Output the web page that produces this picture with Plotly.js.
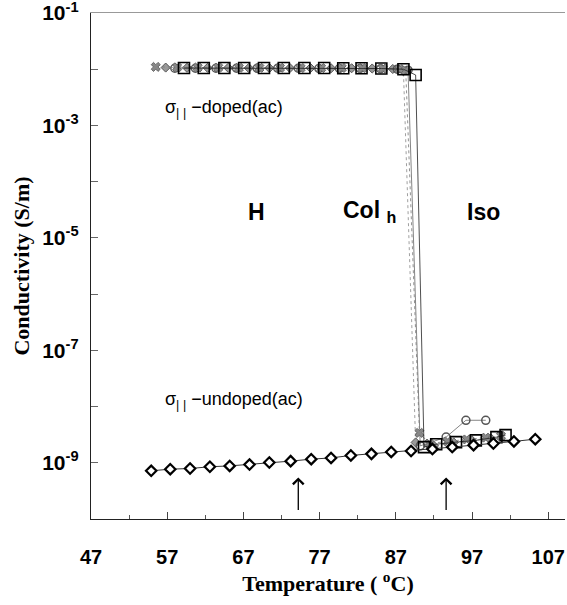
<!DOCTYPE html>
<html>
<head>
<meta charset="utf-8">
<script src="https://cdn.plot.ly/plotly-3.0.1.min.js"></script>
<style>html,body{margin:0;padding:0;background:#fff;}#chart{width:567px;height:605px;}</style>
</head>
<body>
<div id="chart"></div>
<script>
// ---- data (temperature in °C, conductivity in S/m) ----
const undopedT = [54.9, 57.4, 60.0, 62.6, 65.2, 67.8, 70.4, 73.2, 75.9, 78.5, 81.1, 83.8, 86.4, 89.0, 91.8, 94.4, 97.2, 99.8, 102.5, 105.3];
const undopedS = [7.2e-10, 7.7e-10, 7.9e-10, 8.5e-10, 8.8e-10, 9.3e-10, 1.01e-9, 1.07e-9, 1.16e-9, 1.22e-9, 1.35e-9, 1.44e-9, 1.56e-9, 1.62e-9, 1.75e-9, 1.9e-9, 2.06e-9, 2.2e-9, 2.4e-9, 2.63e-9];

const dopedSqT = [59.2, 61.8, 64.5, 67.1, 69.7, 72.3, 75.0, 77.6, 80.1, 82.5, 85.1, 88.0, 89.6, 90.7, 92.3, 94.9, 97.5, 100.2, 101.4];
const dopedSqS = [1.05e-2, 1.05e-2, 1.05e-2, 1.05e-2, 1.05e-2, 1.05e-2, 1.05e-2, 1.05e-2, 1.04e-2, 1.04e-2, 1.03e-2, 1.0e-2, 7.9e-3, 1.9e-9, 2.14e-9, 2.33e-9, 2.5e-9, 2.86e-9, 3.1e-9];

const dopedXT = [55.5, 58.3, 61.0, 63.7, 66.4, 69.1, 71.8, 74.5, 77.2, 79.9, 82.6, 85.3, 87.5, 88.3, 90.1, 91.4, 93.8, 96.3, 98.8, 100.8];
const dopedXS = [1.1e-2, 1.08e-2, 1.07e-2, 1.07e-2, 1.06e-2, 1.06e-2, 1.06e-2, 1.05e-2, 1.05e-2, 1.05e-2, 1.04e-2, 1.03e-2, 1.0e-2, 9.5e-3, 3.4e-9, 2.2e-9, 2.4e-9, 2.6e-9, 2.8e-9, 3.0e-9];

const dopedCirT = [58.0, 60.7, 63.4, 66.1, 68.8, 71.5, 74.2, 76.9, 79.6, 82.3, 85.0, 87.2, 88.6, 90.2, 93.6, 96.2, 98.8];
const dopedCirS = [1.04e-2, 1.04e-2, 1.04e-2, 1.04e-2, 1.04e-2, 1.04e-2, 1.04e-2, 1.03e-2, 1.03e-2, 1.03e-2, 1.02e-2, 1.0e-2, 9.6e-3, 2.0e-9, 2.86e-9, 5.7e-9, 5.7e-9];

const dopedDiaT = [56.8, 59.6, 62.3, 65.0, 67.7, 70.4, 73.1, 75.8, 78.5, 81.2, 83.9, 86.6, 88.0, 89.6, 92.0, 94.6, 97.0, 99.5];
const dopedDiaS = [1.07e-2, 1.06e-2, 1.06e-2, 1.06e-2, 1.05e-2, 1.05e-2, 1.05e-2, 1.05e-2, 1.04e-2, 1.04e-2, 1.03e-2, 1.01e-2, 9.2e-3, 2.3e-9, 2.0e-9, 2.3e-9, 2.5e-9, 2.7e-9];

const xTickVals = [47, 57, 67, 77, 87, 97, 107];
const yTickVals = [1e-9, 1e-8, 1e-7, 1e-6, 1e-5, 1e-4, 1e-3, 1e-2, 1e-1];
const yTickText = ['10<sup>-9</sup>', '', '10<sup>-7</sup>', '', '10<sup>-5</sup>', '', '10<sup>-3</sup>', '', '10<sup>-1</sup>'];

const labelDoped = 'σ<sub>| |</sub> −doped(ac)';
const labelUndoped = 'σ<sub>| |</sub> −undoped(ac)';
const phaseLabels = ['H', 'Col <sub>h</sub>', 'Iso'];
const phaseT = [68.7, 83.5, 98.5];
const phaseS = 2.9e-5;
const arrowT = [74.2, 93.6];
const arrowS = 5.5e-10;

// ---- traces ----
const traces = [
  {x: dopedDiaT, y: dopedDiaS, mode: 'lines+markers', line: {color: '#888', width: 0.8, dash: 'dot'},
   marker: {symbol: 'diamond', size: 7, color: '#999', line: {color: '#555', width: 1}}},
  {x: dopedCirT, y: dopedCirS, mode: 'lines+markers', line: {color: '#666', width: 0.8},
   marker: {symbol: 'circle-open', size: 8, color: '#555', line: {width: 1.5}}},
  {x: dopedXT, y: dopedXS, mode: 'lines+markers', line: {color: '#777', width: 0.8, dash: 'dot'},
   marker: {symbol: 'x', size: 8, color: '#888', line: {color: '#666', width: 1}}},
  {x: dopedSqT, y: dopedSqS, mode: 'lines+markers', line: {color: '#222', width: 0.8},
   marker: {symbol: 'square-open', size: 11, color: '#000', line: {width: 1.6}}},
  {x: undopedT, y: undopedS, mode: 'lines+markers', line: {color: '#333', width: 1},
   marker: {symbol: 'diamond', size: 8, color: '#fff', line: {color: '#000', width: 2.2}}},
  // invisible trace to carry the grey top border axis
  {x: [xTickVals[0]], y: [yTickVals[0]], xaxis: 'x2', mode: 'markers', marker: {opacity: 0}, hoverinfo: 'skip'}
];

const font = {family: 'Liberation Sans, Arial, sans-serif', color: '#000'};
const annotations = [
  {x: 56.4, y: Math.log10(2.0e-3), xref: 'x', yref: 'y', text: labelDoped, showarrow: false, xanchor: 'left',
   font: Object.assign({}, font, {size: 18})},
  {x: 56.4, y: Math.log10(1.26e-8), xref: 'x', yref: 'y', text: labelUndoped, showarrow: false, xanchor: 'left',
   font: Object.assign({}, font, {size: 18})}
];
phaseLabels.forEach((t, i) => annotations.push({
  x: phaseT[i], y: Math.log10(phaseS), xref: 'x', yref: 'y', text: t, showarrow: false,
  font: Object.assign({}, font, {size: 23, weight: 'bold'})
}));
arrowT.forEach(t => annotations.push({
  x: t, y: Math.log10(arrowS), xref: 'x', yref: 'y', text: '', showarrow: true,
  ax: 0, ay: 34, arrowhead: 4, arrowsize: 1.6, arrowwidth: 1.3, arrowcolor: '#000'
}));

const layout = {
  width: 567, height: 605,
  margin: {l: 91, r: 2, t: 13, b: 86},
  showlegend: false,
  xaxis: {
    range: [47, 109.2], showgrid: false, zeroline: false,
    showline: true, linecolor: '#222', linewidth: 1.2,
    tickmode: 'array', tickvals: xTickVals,
    ticks: 'inside', ticklen: 7, tickcolor: '#444', tickwidth: 1,
    minor: {tickmode: 'linear', tick0: 52, dtick: 10, ticks: 'inside', ticklen: 4, tickcolor: '#555', showgrid: false},
    ticklabelstandoff: 20, ticklabeloverflow: 'allow',
    tickfont: Object.assign({}, font, {size: 20, weight: 'bold'}),
    title: {text: 'Temperature ( <sup>o</sup>C)', standoff: 8,
            font: {family: 'Liberation Serif, Times New Roman, serif', size: 22, weight: 'bold', color: '#000'}}
  },
  xaxis2: {
    overlaying: 'x', side: 'top', matches: 'x', showline: true, linecolor: '#999', linewidth: 1.5,
    showticklabels: false, ticks: '', showgrid: false, zeroline: false
  },
  yaxis: {
    type: 'log', range: [-10, -1], showgrid: false, zeroline: false,
    showline: true, linecolor: '#222', linewidth: 1.2,
    tickmode: 'array', tickvals: yTickVals, ticktext: yTickText,
    ticks: 'inside', ticklen: 7, tickcolor: '#666', tickwidth: 1,
    ticklabelstandoff: 7, ticklabeloverflow: 'allow',
    tickfont: Object.assign({}, font, {size: 21, weight: 'bold'}),
    title: {text: 'Conductivity (S/m)', standoff: 6,
            font: {family: 'Liberation Serif, Times New Roman, serif', size: 22, weight: 'bold', color: '#000'}}
  },
  annotations: annotations
};

Plotly.newPlot('chart', traces, layout, {displayModeBar: false, staticPlot: true});
</script>
</body>
</html>
